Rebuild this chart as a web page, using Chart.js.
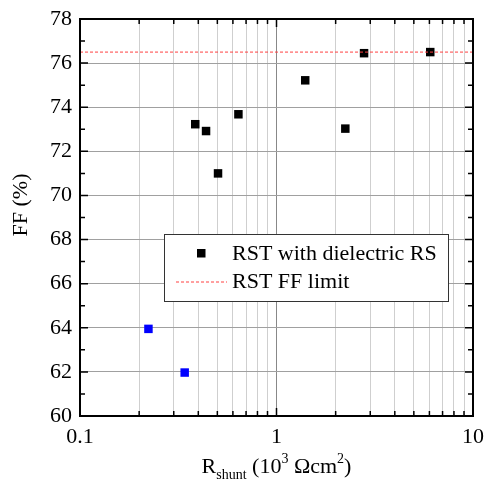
<!DOCTYPE html>
<html>
<head>
<meta charset="utf-8">
<script src="https://cdn.jsdelivr.net/npm/chart.js@4/dist/chart.umd.min.js"></script>
<style>
  body { margin: 0; background: #fff; }
  #wrap { width: 485px; height: 491px; }
</style>
</head>
<body>
<div id="wrap"><canvas id="ff-chart" width="485" height="491"></canvas></div>
<script>
// Data
const rshuntDielectric = [0.386, 0.438, 0.504, 0.64, 1.40, 2.24, 2.79, 6.06];
const ffDielectric = [73.23, 72.92, 71.0, 73.68, 75.22, 73.03, 76.45, 76.5];
const rshuntBlue = [0.223, 0.341];
const ffBlue = [63.95, 61.97];
const ffLimit = 76.5;
const xRange = [0.1, 10];
const xTicks = [0.1, 0.2, 0.3, 0.4, 0.5, 0.6, 0.7, 0.8, 0.9, 1, 2, 3, 4, 5, 6, 7, 8, 9, 10];
const xLabels = [0.1, 1, 10];
const yRange = [60, 78];

const serif = '"Liberation Serif", "Times New Roman", serif';

function toPoints(xs, ys) {
  return xs.map((x, i) => ({ x: x, y: ys[i] }));
}

// draws the frame, inside ticks, axis titles and the legend box
const decorations = {
  id: 'decorations',
  afterDraw(chart) {
    const ctx = chart.ctx;
    const area = chart.chartArea;
    const xs = chart.scales.x;
    const ys = chart.scales.y;
    ctx.save();

    // inside tick marks on all four sides
    ctx.strokeStyle = '#000';
    ctx.lineWidth = 1.5;
    xTicks.forEach(v => {
      const px = xs.getPixelForValue(v);
      const len = xLabels.includes(v) ? 8 : 5;
      ctx.beginPath();
      ctx.moveTo(px, area.bottom); ctx.lineTo(px, area.bottom - len);
      ctx.moveTo(px, area.top); ctx.lineTo(px, area.top + len);
      ctx.stroke();
    });
    for (let v = yRange[0]; v <= yRange[1]; v++) {
      const py = ys.getPixelForValue(v);
      const len = v % 2 === 0 ? 8 : 5;
      ctx.beginPath();
      ctx.moveTo(area.left, py); ctx.lineTo(area.left + len, py);
      ctx.moveTo(area.right, py); ctx.lineTo(area.right - len, py);
      ctx.stroke();
    }

    // frame
    ctx.lineWidth = 2;
    ctx.strokeRect(area.left, area.top, area.right - area.left, area.bottom - area.top);

    // y title
    ctx.fillStyle = '#000';
    ctx.font = '22px ' + serif;
    ctx.textAlign = 'center';
    ctx.textBaseline = 'middle';
    ctx.save();
    ctx.translate(21, 205);
    ctx.rotate(-Math.PI / 2);
    ctx.fillText('FF (%)', 0, 0);
    ctx.restore();

    // x title with sub/superscripts
    const parts = [
      { t: 'R', size: 22, dy: 0 },
      { t: 'shunt', size: 14, dy: 6 },
      { t: ' (10', size: 22, dy: 0 },
      { t: '3', size: 14, dy: -10 },
      { t: ' \u03A9cm', size: 22, dy: 0 },
      { t: '2', size: 14, dy: -10 },
      { t: ')', size: 22, dy: 0 }
    ];
    ctx.textAlign = 'left';
    ctx.textBaseline = 'alphabetic';
    let total = 0;
    parts.forEach(p => { ctx.font = p.size + 'px ' + serif; p.w = ctx.measureText(p.t).width; total += p.w; });
    let cx = (area.left + area.right) / 2 - total / 2;
    parts.forEach(p => {
      ctx.font = p.size + 'px ' + serif;
      ctx.fillText(p.t, cx, 473 + p.dy);
      cx += p.w;
    });

    // legend
    const lx = 164, ly = 234, lw = 284, lh = 67;
    ctx.fillStyle = '#fff';
    ctx.fillRect(lx, ly, lw, lh);
    ctx.strokeStyle = '#333';
    ctx.lineWidth = 1;
    ctx.strokeRect(lx + 0.5, ly + 0.5, lw, lh);
    ctx.fillStyle = '#000';
    ctx.fillRect(197, 249, 8.5, 8.5);
    ctx.strokeStyle = '#ff4040';
    ctx.setLineDash([3, 2]);
    ctx.beginPath();
    ctx.moveTo(176, 282); ctx.lineTo(227, 282);
    ctx.stroke();
    ctx.setLineDash([]);
    ctx.fillStyle = '#000';
    ctx.font = '22px ' + serif;
    ctx.textBaseline = 'middle';
    ctx.fillText('RST with dielectric RS', 232, 254);
    ctx.fillText('RST FF limit', 232, 282);

    ctx.restore();
  }
};

const ctx = document.getElementById('ff-chart').getContext('2d');
new Chart(ctx, {
  type: 'scatter',
  data: {
    datasets: [
      {
        type: 'line',
        label: 'RST FF limit',
        data: toPoints(xRange, [ffLimit, ffLimit]),
        borderColor: '#ff4040',
        borderWidth: 1,
        borderDash: [3, 2],
        pointRadius: 0,
        fill: false
      },
      {
        label: 'RST with dielectric RS',
        data: toPoints(rshuntDielectric, ffDielectric),
        pointStyle: 'rect',
        pointRadius: 6,
        backgroundColor: '#000',
        borderWidth: 0
      },
      {
        label: 'other',
        data: toPoints(rshuntBlue, ffBlue),
        pointStyle: 'rect',
        pointRadius: 6,
        backgroundColor: '#0000ff',
        borderWidth: 0
      }
    ]
  },
  options: {
    responsive: false,
    animation: false,
    layout: { padding: { left: 0, right: 12, top: 19, bottom: 0 } },
    plugins: { legend: { display: false }, tooltip: { enabled: false } },
    scales: {
      x: {
        type: 'logarithmic',
        min: xRange[0],
        max: xRange[1],
        afterBuildTicks: scale => { scale.ticks = xTicks.map(v => ({ value: v })); },
        afterFit: scale => {
          scale.height = 75;
          scale.paddingLeft = 0;
          scale.paddingRight = 0;
        },
        border: { display: false },
        grid: {
          drawTicks: false,
          lineWidth: 1,
          color: c => (c.tick && c.tick.value === 1 ? '#888' : '#cfcfcf')
        },
        ticks: {
          autoSkip: false,
          maxRotation: 0,
          padding: 8,
          color: '#000',
          font: { family: serif, size: 22 },
          callback: v => (xLabels.includes(v) ? String(v) : '')
        }
      },
      y: {
        min: yRange[0],
        max: yRange[1],
        afterFit: scale => {
          scale.width = 80;
          scale.paddingTop = 0;
          scale.paddingBottom = 0;
        },
        border: { display: false },
        grid: {
          drawTicks: false,
          lineWidth: 1,
          color: c => (c.tick && c.tick.value % 2 === 0 ? '#a0a0a0' : 'rgba(0,0,0,0)')
        },
        ticks: {
          stepSize: 1,
          autoSkip: false,
          padding: 8,
          color: '#000',
          font: { family: serif, size: 22 },
          callback: v => (v % 2 === 0 ? String(v) : '')
        }
      }
    }
  },
  plugins: [decorations]
});
</script>
</body>
</html>
